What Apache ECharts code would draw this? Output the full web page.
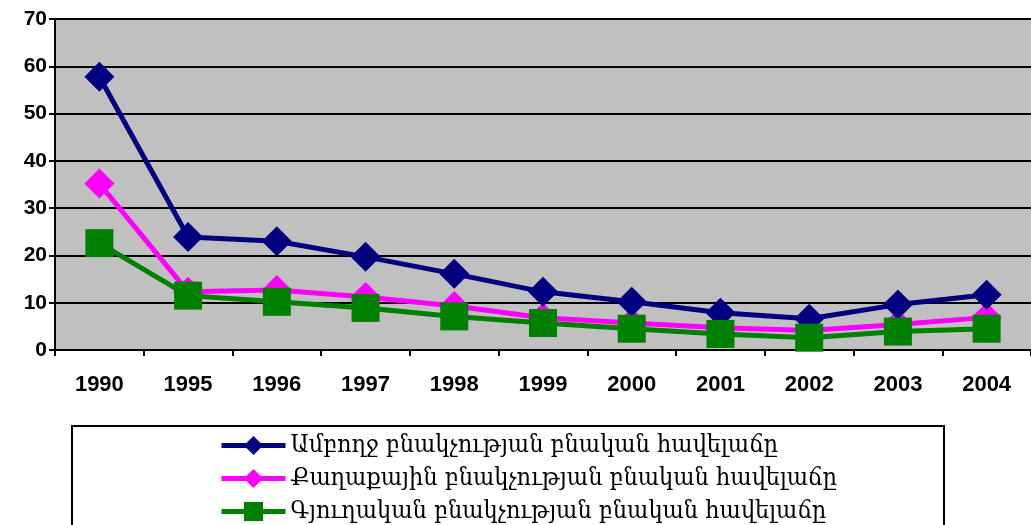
<!DOCTYPE html>
<html>
<head>
<meta charset="UTF-8">
<title>chart</title>
<style>
  html, body { margin: 0; padding: 0; background: #fff; }
  #main { width: 1031px; height: 525px; }
</style>
</head>
<body>
<div id="main"></div>
<script src="https://cdn.jsdelivr.net/npm/echarts@6/dist/echarts.min.js"></script>
<script>
// 年份
var years = ['1990', '1995', '1996', '1997', '1998', '1999', '2000', '2001', '2002', '2003', '2004'];
// 三个系列
var totalRate = [57.8, 23.9, 23.0, 19.7, 16.1, 12.3, 10.2, 7.9, 6.6, 9.6, 11.7];
var urbanRate = [35.2, 12.3, 12.7, 11.2, 9.3, 6.8, 5.7, 4.7, 4.1, 5.4, 6.9];
var ruralRate = [22.6, 11.5, 10.2, 8.9, 7.1, 5.7, 4.5, 3.4, 2.6, 3.9, 4.5];
var seriesNames = [
  'Ամբողջ բնակչության բնական հավելաճը',
  'Քաղաքային բնակչության բնական հավելաճը',
  'Գյուղական բնակչության բնական հավելաճը'
];

var chart = echarts.init(document.getElementById('main'));

// 每个图例单独放一行
var legendTops = [428, 461, 494];
var legends = seriesNames.map(function (name, i) {
  return {
    left: 214,
    top: legendTops[i],
    itemWidth: 64,
    itemHeight: 24,
    itemGap: 4,
    data: [name],
    lineStyle: { width: 5 },
    textStyle: { fontFamily: 'DejaVu Serif Condensed', fontSize: 25, color: '#000' }
  };
});

var option = {
  animation: false,
  backgroundColor: '#fff',
  grid: { left: 55, top: 19, width: 979, height: 331, backgroundColor: '#c0c0c0', show: true, borderWidth: 0 },
  graphic: [
    { type: 'line', shape: { x1: 55, y1: 19, x2: 1031, y2: 19 }, style: { stroke: '#808080', lineWidth: 2 } },
    { type: 'rect', shape: { x: 72, y: 426, width: 872, height: 110 }, style: { fill: 'none', stroke: '#000', lineWidth: 2 } }
  ],
  legend: legends,
  xAxis: {
    type: 'category',
    data: years,
    boundaryGap: true,
    axisLine: { lineStyle: { color: '#000', width: 2 } },
    axisTick: { show: true, length: 6, lineStyle: { color: '#000', width: 2 } },
    axisLabel: { color: '#000', fontFamily: 'Arial, Liberation Sans', fontWeight: 'bold', fontSize: 22, margin: 24 }
  },
  yAxis: {
    type: 'value',
    min: 0,
    max: 70,
    interval: 10,
    axisLine: { show: true, lineStyle: { color: '#000', width: 2 } },
    axisTick: { show: true, length: 6, lineStyle: { color: '#000', width: 2 } },
    splitLine: { lineStyle: { color: '#000', width: 2 } },
    axisLabel: { color: '#000', fontFamily: 'Arial, Liberation Sans', fontWeight: 'bold', fontSize: 21, margin: 8 }
  },
  series: [
    {
      name: seriesNames[0], type: 'line', data: totalRate,
      symbol: 'diamond', symbolSize: 30,
      lineStyle: { color: '#000080', width: 5 },
      itemStyle: { color: '#000080' }, z: 3
    },
    {
      name: seriesNames[1], type: 'line', data: urbanRate,
      symbol: 'diamond', symbolSize: 30,
      lineStyle: { color: '#ff00ff', width: 5 },
      itemStyle: { color: '#ff00ff' }, z: 2
    },
    {
      name: seriesNames[2], type: 'line', data: ruralRate,
      symbol: 'rect', symbolSize: 28,
      lineStyle: { color: '#008000', width: 5 },
      itemStyle: { color: '#008000' }, z: 4
    }
  ]
};

chart.setOption(option);
</script>
</body>
</html>
